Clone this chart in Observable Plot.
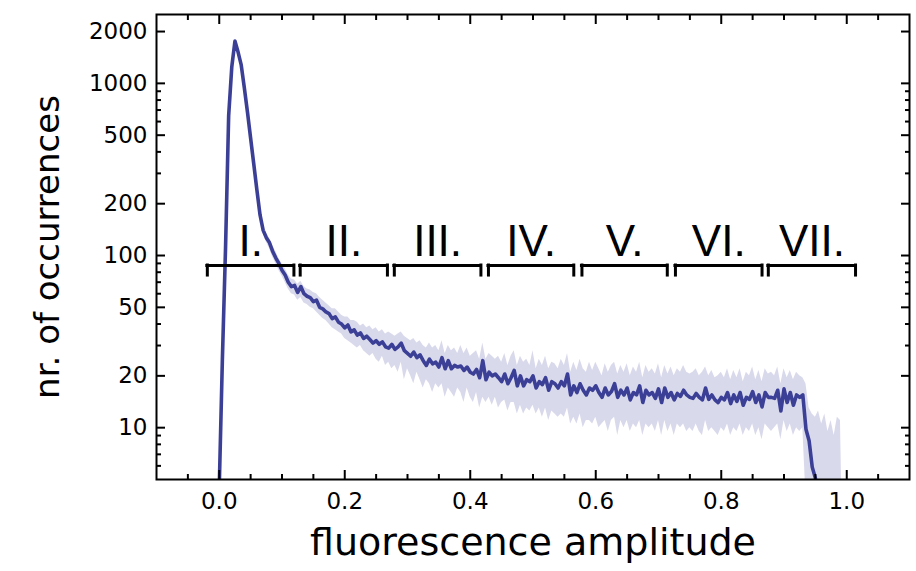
<!DOCTYPE html>
<html>
<head>
<meta charset="utf-8">
<script src="https://cdn.jsdelivr.net/npm/d3@7"></script>
<script src="https://cdn.jsdelivr.net/npm/@observablehq/plot@0.6"></script>
<style>
  html, body { margin: 0; padding: 0; background: #ffffff; }
  #chart { width: 916px; height: 571px; }
</style>
</head>
<body>
<div id="chart"></div>
<script>
// ---- data ----
const binWidth = 0.005;            // histogram bin spacing along fluorescence amplitude
// mean number of occurrences per bin, bin i at amplitude i*binWidth
const counts = [
  4.5, 25, 110, 650, 1250, 1760, 1520, 1280, 940, 680,
  480, 340, 240, 172, 140, 127, 119, 106, 97, 90,
  82, 77, 70, 66, 67, 61, 66, 60, 58, 57,
  54, 55, 50, 49, 47, 46, 43, 44, 41, 40,
  38, 39.5, 36, 37, 34.5, 35.5, 33, 34, 32.5, 31,
  32, 30.5, 31.5, 29.5, 29, 30.5, 28.5, 29.5, 31, 28,
  27, 26, 27.5, 25.5, 26.5, 24.5, 23, 25, 23.5, 24,
  22.5, 25.5, 22, 24.5, 22, 23, 22.5, 22.8, 21.5, 22.5,
  21, 20.5, 21.8, 19.5, 24.5, 19, 21, 20, 20.5, 19.5,
  18.5, 20.5, 18, 19.5, 21.5, 17.5, 20, 17.5, 19, 18.5,
  20, 17, 18.5, 17.8, 19.5, 16.5, 18.5, 18, 17, 18.5,
  17.5, 20.5, 15.5, 17.5, 16, 18, 16.5, 15.5, 17, 16.5,
  17.5, 16, 15, 17, 15.5, 16.2, 18, 15, 16.5, 15.5,
  17, 14.5, 16, 15.5, 17.5, 14, 16.5, 15.5, 16, 14.8,
  16.8, 14, 17, 15, 16, 14.5, 15.8, 15.2, 16.5, 15.5,
  15, 14.8, 15.8, 15, 14.5, 17, 14.6, 15.5, 14.5, 14,
  15, 14.5, 16, 13.8, 15.5, 14.2, 16, 13.5, 15, 14.6,
  16.2, 14, 15.5, 13.2, 16, 15, 15, 14.8, 16.5, 12.5,
  16.8, 14, 16, 13.5, 15.5, 15, 15.5, 9.8, 8.4, 5.9,
  5.1, 3
];
// spread band, starting at bin index bandStartIndex
const bandStartIndex = 14;
const bandUpper = [
  146, 136, 126, 114, 106, 96,
  90, 84, 77, 73, 72, 68, 71, 66, 64, 63,
  61, 60, 57, 55, 53, 51, 49, 49, 47, 45,
  44, 44, 42, 42, 41, 39, 40, 38, 39, 37,
  38, 36, 37, 35, 36, 35, 34, 35, 36, 34,
  33, 32, 33, 31, 32, 30, 29, 31, 29, 30,
  28, 32, 27, 30, 28, 29, 27, 30, 27, 29,
  26, 27, 28, 25, 31, 25, 27, 26, 25, 26,
  24, 27, 23, 26, 28, 23, 26, 24, 25, 23,
  28, 22, 25, 23, 26, 22, 24, 23.5, 22, 25,
  23, 27, 21, 24, 21.5, 25, 22, 21, 24, 21.5,
  24, 22, 20, 23.5, 21, 23, 24, 20.5, 23, 21,
  23.5, 20, 22.5, 21, 24, 19.5, 23, 21, 22, 20.5,
  23.5, 19.5, 23, 20.5, 22.5, 20, 22, 21, 23, 21,
  20.5, 21, 22, 20, 21, 22.5, 20, 21.5, 19.5, 20,
  21, 19.5, 22, 19, 21.5, 19.5, 22, 18.5, 21, 20,
  22.5, 19, 21.5, 18.5, 22, 20.5, 21, 20, 22.5, 18,
  22, 19.5, 21.5, 19, 21, 20, 19.5, 18, 13, 12,
  11.5, 12.5, 10.5, 12, 9.5, 11, 9, 11.5, 11, 1
];
const bandLower = [
  134, 120, 110, 98, 90, 82,
  76, 70, 64, 60, 59, 55, 57, 53, 52, 50,
  49, 47, 45, 43, 42, 40, 38, 37, 36, 35,
  33, 32, 31, 30, 29, 30, 28, 27, 26, 27,
  25, 24, 26, 23, 24, 22, 23, 21, 24, 19,
  22, 20, 18, 21, 19, 17, 19, 18, 16, 18,
  17, 18, 15, 17, 16, 15, 17, 16, 14, 17,
  15, 14, 16, 13, 15, 14, 15, 13.5, 15, 13,
  14, 14.5, 12.5, 14, 14, 12, 13.5, 12, 13, 12.5,
  13.5, 12, 13, 11.5, 13, 11, 12.5, 12, 11.5, 12,
  11.5, 13, 10.5, 11.5, 10.5, 12, 10, 11, 11, 10.5,
  11.5, 10, 10.5, 11, 9.5, 11, 11.5, 9, 11, 10,
  11, 9.5, 10.5, 10, 11, 9, 10.5, 10, 10.5, 9.5,
  11, 9, 11, 9.5, 10.5, 9, 10.5, 10, 10.5, 9.5,
  10, 9.5, 10.5, 9.5, 9, 11, 9.5, 10, 9.5, 9,
  10, 9.5, 10.5, 9, 10, 9.5, 10.5, 9, 10, 9.5,
  10.5, 9, 10, 8.5, 10.5, 10, 9.5, 10, 10.5, 8.5,
  11, 9.5, 10.5, 9, 10, 9.5, 10, 4, 3, 2,
  1, 1, 1, 1, 1, 1, 1, 1, 1, 1
];
// region brackets
const romanLabels = ["I.", "II.", "III.", "IV.", "V.", "VI.", "VII."];
const bracketStarts = [-0.019, 0.129, 0.279, 0.429, 0.578, 0.727, 0.875];
const bracketEnds   = [0.119, 0.268, 0.417, 0.565, 0.714, 0.865, 1.014];
const bracketLevel = 87.5;
const bracketFoot = 76.5;
// axis ticks
const yMajorTicks = [10, 20, 50, 100, 200, 500, 1000, 2000];
const yMinorTicks = [6, 7, 8, 9, 30, 40, 60, 70, 80, 90, 300, 400, 600, 700, 800, 900];
const xMajorTicks = [0, 0.2, 0.4, 0.6, 0.8, 1.0];
const xMinorTicks = [-0.05, 0.05, 0.1, 0.15, 0.25, 0.3, 0.35, 0.45, 0.5, 0.55, 0.65, 0.7, 0.75, 0.85, 0.9, 0.95, 1.05];
const xDomain = [-0.1, 1.1];
const yDomain = [5, 2512];
const xTitle = "fluorescence amplitude";
const yTitle = "nr. of occurrences";

// ---- build tables ----
const lineData = counts.map((v, i) => ({x: i * binWidth, y: v}));
const bandData = bandUpper.map((u, i) => ({x: (bandStartIndex + i) * binWidth, lo: bandLower[i], hi: u}));
const brackets = romanLabels.map((t, i) => ({label: t, x1: bracketStarts[i], x2: bracketEnds[i]}));

const lineColor = "#3b3f96";
const bandColor = "#d9d9ec";
const tickFont = "DejaVu Sans";

const chart = Plot.plot({
  width: 916,
  height: 571,
  marginLeft: 156,
  marginRight: 7,
  marginTop: 14,
  marginBottom: 92,
  style: {background: "#ffffff", color: "#000000", fontFamily: tickFont, fontSize: "23px"},
  x: {domain: xDomain},
  y: {type: "log", domain: yDomain},
  marks: [
    Plot.areaY(bandData, {x: "x", y1: "lo", y2: "hi", fill: bandColor, clip: true, curve: "linear"}),
    Plot.line(lineData, {x: "x", y: "y", stroke: lineColor, strokeWidth: 3.6, strokeLinejoin: "round", clip: true}),
    // brackets
    Plot.ruleY(brackets, {y: bracketLevel, x1: "x1", x2: "x2", stroke: "#000", strokeWidth: 3, strokeLinecap: "square"}),
    Plot.ruleX(brackets, {x: "x1", y1: bracketLevel, y2: bracketFoot, stroke: "#000", strokeWidth: 3, strokeLinecap: "square"}),
    Plot.ruleX(brackets, {x: "x2", y1: bracketLevel, y2: bracketFoot, stroke: "#000", strokeWidth: 3, strokeLinecap: "square"}),
    Plot.text(brackets, {x: d => (d.x1 + d.x2) / 2, y: bracketLevel, text: "label", fontSize: 44, fontFamily: "Liberation Sans", lineAnchor: "bottom", dy: -10, fill: "#000"}),
    // frame
    Plot.frame({stroke: "#000", strokeWidth: 2}),
    // inward ticks on all four sides
    Plot.axisY(yMajorTicks, {anchor: "left", tickSize: 9, dx: 9, fill: "none", label: null, strokeWidth: 2}),
    Plot.axisY(yMinorTicks, {anchor: "left", tickSize: 5, dx: 5, fill: "none", label: null, strokeWidth: 2}),
    Plot.axisY(yMajorTicks, {anchor: "right", tickSize: 9, dx: -9, fill: "none", label: null, strokeWidth: 2}),
    Plot.axisY(yMinorTicks, {anchor: "right", tickSize: 5, dx: -5, fill: "none", label: null, strokeWidth: 2}),
    Plot.axisX(xMajorTicks, {anchor: "bottom", tickSize: 9, dy: -9, fill: "none", label: null, strokeWidth: 2}),
    Plot.axisX(xMinorTicks, {anchor: "bottom", tickSize: 5, dy: -5, fill: "none", label: null, strokeWidth: 2}),
    Plot.axisX(xMajorTicks, {anchor: "top", tickSize: 9, dy: 9, fill: "none", label: null, strokeWidth: 2}),
    Plot.axisX(xMinorTicks, {anchor: "top", tickSize: 5, dy: 5, fill: "none", label: null, strokeWidth: 2}),
    // tick labels
    Plot.axisY(yMajorTicks, {anchor: "left", tickSize: 0, tickPadding: 9, tickFormat: d => String(d), fontSize: 23, fontFamily: tickFont, label: null}),
    Plot.axisX(xMajorTicks, {anchor: "bottom", tickSize: 0, tickPadding: 13, tickFormat: d3.format(".1f"), fontSize: 23, fontFamily: tickFont, label: null}),
    // axis titles
    Plot.text([yTitle], {text: d => d, frameAnchor: "left", textAnchor: "middle", lineAnchor: "middle", rotate: -90, dx: -108, fontSize: 34, fontFamily: tickFont, fill: "#000"}),
    Plot.text([xTitle], {text: d => d, frameAnchor: "bottom", dy: 49, lineAnchor: "top", fontSize: 38, fontFamily: tickFont, fill: "#000"})
  ]
});
document.getElementById("chart").appendChild(chart);
</script>
</body>
</html>
